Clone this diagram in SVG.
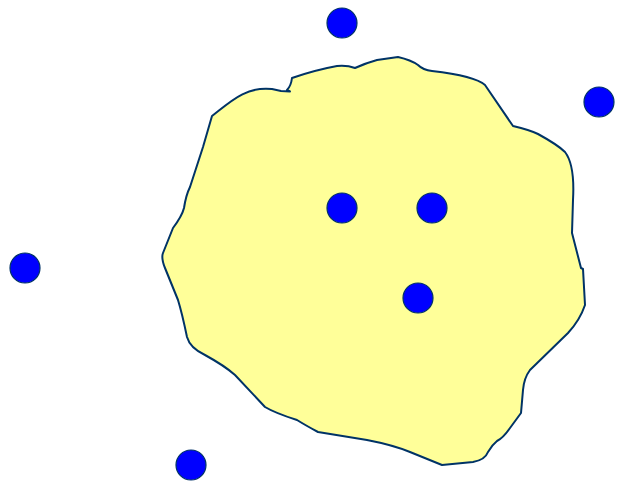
<svg xmlns="http://www.w3.org/2000/svg" width="617" height="482" viewBox="0 0 617 482">
<style>
.blob{fill:#ffff99;stroke:#003366;stroke-width:2;stroke-linejoin:round}
.dot{fill:#0000ff;stroke:#003366;stroke-width:1.2}
</style>
<rect width="617" height="482" fill="#ffffff"/>
<g id="region">
<path class="blob" d="M212,116 C230,102 246,86 272,89 L281,91 L290,91.5 L287,90 Q291,86 292,78 Q315,70 337,66 Q347,65 355,68 Q366,63 377,60 L398,57 Q411,60 418,65 Q423,70 432,71 Q475,76 485,85 L513,126 Q530,130 538,134 Q558,145 565,152 Q575,165 573,200 L572,233 L581,268 L583,269 L585,305 Q580,320 568,333 L530,370 Q524,378 523,390 L521,413 L510,428 Q503,438 497,441 Q492,445 488,452 Q485,460 473,462 L442,465 L410,452 Q393,445 367,440 L318,432 Q305,425 297,420 Q275,413 265,407 L235,375 Q225,366 205,355 Q190,348 187,337 Q182,313 178,300 L165,268 Q161,258 163,253 L173,228 Q182,216 184,208 Q186,195 190,187 L203,147 Z"/>
</g>
<g id="n1"><circle class="dot" cx="342" cy="23" r="15"/></g>
<g id="n2"><circle class="dot" cx="599" cy="102" r="15"/></g>
<g id="n3"><circle class="dot" cx="25" cy="268" r="15"/></g>
<g id="n4"><circle class="dot" cx="191" cy="465" r="15"/></g>
<g id="n5"><circle class="dot" cx="342" cy="208" r="15"/></g>
<g id="n6"><circle class="dot" cx="432" cy="208" r="15"/></g>
<g id="n7"><circle class="dot" cx="418" cy="298" r="15"/></g>
<g id="connectors"></g>
</svg>
